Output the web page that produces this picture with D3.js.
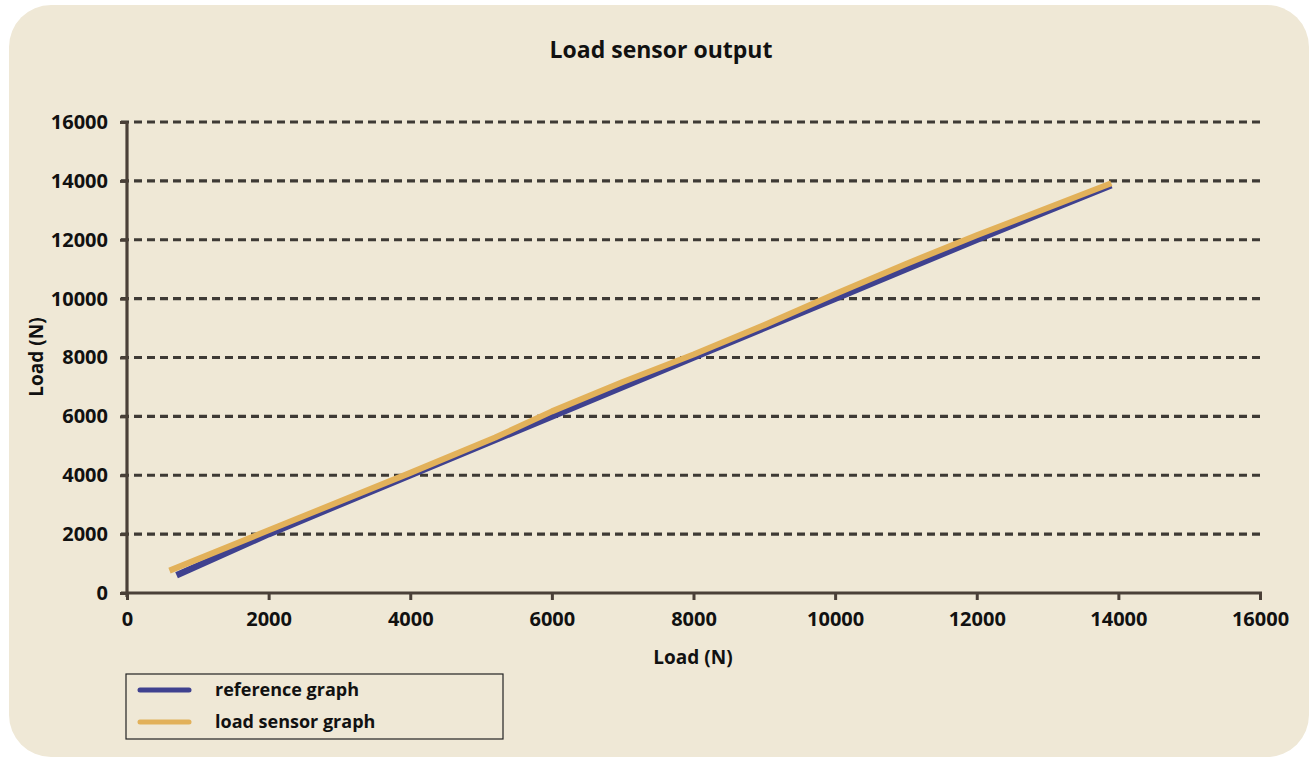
<!DOCTYPE html>
<html>
<head>
<meta charset="utf-8">
<script src="https://cdn.jsdelivr.net/npm/d3@7"></script>
<style>
  html, body { margin: 0; padding: 0; background: #ffffff; }
  svg { display: block; }
  text { font-family: "Open Sans", "DejaVu Sans", sans-serif; font-weight: 700; fill: #111; }
</style>
</head>
<body>
<svg id="chart" width="1309" height="757"></svg>
<script>
// Axis ticks
const xTicks = [0, 2000, 4000, 6000, 8000, 10000, 12000, 14000, 16000];
const yTicks = [0, 2000, 4000, 6000, 8000, 10000, 12000, 14000, 16000];

// Reference graph (applied load vs reference reading)
const refX = [700, 2000, 4000, 6000, 8000, 10000, 12000, 13900];
const refY = [600, 2000, 4000, 6000, 8000, 10000, 12000, 13850];

// Load sensor graph
const sensorX = [600, 2000, 4000, 5200, 6000, 7000, 8000, 9000, 10000, 11000, 12000, 13900];
const sensorY = [760, 2130, 4080, 5280, 6170, 7170, 8100, 9100, 10160, 11180, 12150, 13920];

const seriesNames = ["reference graph", "load sensor graph"];
const seriesColors = ["#3f418f", "#e2b15a"];

const svg = d3.select("#chart");

// Background panel
svg.append("rect")
  .attr("x", 9).attr("y", 5)
  .attr("width", 1300).attr("height", 752)
  .attr("rx", 42).attr("ry", 42)
  .attr("fill", "#efe8d6");

const x = d3.scaleLinear().domain([0, 16000]).range([127, 1260]);
const y = d3.scaleLinear().domain([0, 16000]).range([593, 122]);

const axisColor = "#4a4038";
const tickFont = 20;

// Dashed horizontal gridlines
svg.append("g")
  .selectAll("line")
  .data(yTicks.filter(d => d > 0))
  .join("line")
  .attr("x1", x(0) - 6).attr("x2", x(16000) + 2)
  .attr("y1", d => y(d)).attr("y2", d => y(d))
  .attr("stroke", "#3e3a35")
  .attr("stroke-width", 3.2)
  .attr("stroke-dasharray", "8,5");

// Y axis
const yAxis = svg.append("g")
  .attr("transform", `translate(${x(0)},0)`)
  .call(d3.axisLeft(y).tickValues(yTicks).tickSize(7).tickPadding(12).tickFormat(d3.format("d")));
yAxis.select(".domain").attr("stroke", axisColor).attr("stroke-width", 3.2)
  .attr("d", `M0,${y(16000)}V${y(0) + 4}`);
yAxis.selectAll(".tick line").attr("stroke", axisColor).attr("stroke-width", 3);
yAxis.selectAll(".tick text").attr("font-size", tickFont).attr("fill", "#111")
  .style("font-family", "'Open Sans', sans-serif").style("font-weight", 700);

// X axis
const xAxis = svg.append("g")
  .attr("transform", `translate(0,${y(0)})`)
  .call(d3.axisBottom(x).tickValues(xTicks).tickSize(7).tickPadding(12).tickFormat(d3.format("d")));
xAxis.select(".domain").attr("stroke", axisColor).attr("stroke-width", 3.2)
  .attr("d", `M${x(0) - 6},0H${x(16000) + 2}`);
xAxis.selectAll(".tick line").attr("stroke", axisColor).attr("stroke-width", 3);
xAxis.selectAll(".tick text").attr("font-size", tickFont).attr("fill", "#111")
  .style("font-family", "'Open Sans', sans-serif").style("font-weight", 700);

// Series lines
const line = d3.line().x(d => x(d[0])).y(d => y(d[1])).curve(d3.curveLinear);
const refPts = refX.map((v, i) => [v, refY[i]]);
const sensorPts = sensorX.map((v, i) => [v, sensorY[i]]);

svg.append("path")
  .datum(refPts)
  .attr("d", line)
  .attr("fill", "none")
  .attr("stroke", seriesColors[0])
  .attr("stroke-width", 6.5)
  .attr("stroke-linejoin", "round");

svg.append("path")
  .datum(sensorPts)
  .attr("d", line)
  .attr("fill", "none")
  .attr("stroke", seriesColors[1])
  .attr("stroke-width", 6)
  .attr("stroke-linejoin", "round");

// Title
svg.append("text")
  .attr("x", 661).attr("y", 58)
  .attr("text-anchor", "middle")
  .attr("font-size", 23)
  .text("Load sensor output");

// Axis titles
svg.append("text")
  .attr("x", 693).attr("y", 664)
  .attr("text-anchor", "middle")
  .attr("font-size", 19)
  .text("Load (N)");

svg.append("text")
  .attr("transform", "translate(43,357) rotate(-90)")
  .attr("text-anchor", "middle")
  .attr("font-size", 19)
  .text("Load (N)");

// Legend
const legend = svg.append("g");
legend.append("rect")
  .attr("x", 126).attr("y", 674)
  .attr("width", 377).attr("height", 65)
  .attr("fill", "none")
  .attr("stroke", "#222")
  .attr("stroke-width", 1.2);

const items = legend.selectAll("g.item")
  .data(seriesNames)
  .join("g")
  .attr("class", "item")
  .attr("transform", (d, i) => `translate(0,${690 + i * 32})`);

items.append("line")
  .attr("x1", 140).attr("x2", 189)
  .attr("y1", 0).attr("y2", 0)
  .attr("stroke", (d, i) => seriesColors[i])
  .attr("stroke-width", 5)
  .attr("stroke-linecap", "round");

items.append("text")
  .attr("x", 215).attr("y", 6)
  .attr("font-size", 18)
  .text(d => d);
</script>
</body>
</html>
